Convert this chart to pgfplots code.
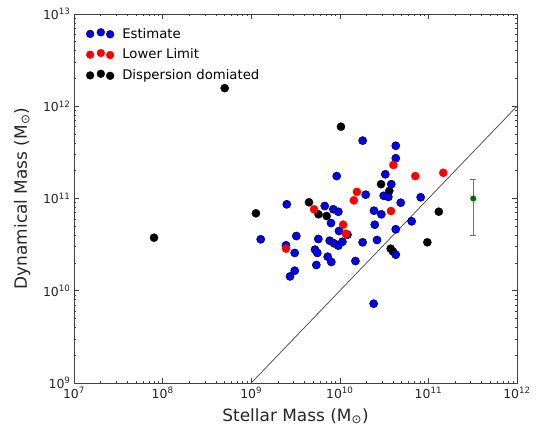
\documentclass[border=0pt]{standalone}
\usepackage{pgfplots}
\pgfplotsset{compat=1.18}
\usepackage{pgfplotstable}
\usepackage{fontspec}
\setmainfont{DejaVu Sans}

\pgfplotstableread{
x y
1.81e10 4.24e11
4.28e10 3.73e11
4.28e10 2.73e11
9.23e9 1.75e11
3.26e10 1.83e11
3.81e10 1.43e11
1.96e10 1.10e11
3.13e10 1.07e11
3.53e10 1.04e11
4.87e10 9.0e10
8.18e10 1.03e11
2.52e9 8.65e10
6.76e9 8.29e10
8.45e9 7.64e10
9.62e9 7.19e10
2.43e10 7.38e10
2.94e10 6.74e10
7.96e9 5.42e10
2.48e10 5.20e10
6.47e10 5.66e10
4.28e10 4.64e10
9.79e9 4.44e10
1.22e10 4.05e10
1.28e9 3.61e10
3.23e9 3.92e10
5.72e9 3.64e10
2.47e9 3.11e10
7.69e9 3.49e10
8.60e9 3.27e10
9.62e9 3.08e10
1.07e10 3.40e10
1.81e10 3.35e10
2.63e10 3.55e10
3.10e9 2.57e10
5.25e9 2.79e10
5.57e9 2.57e10
7.30e9 2.34e10
8.02e9 2.05e10
5.43e9 1.90e10
1.50e10 2.10e10
3.10e9 1.65e10
2.74e9 1.43e10
4.28e10 2.46e10
2.41e10 7.24e9
}\estimate

\pgfplotstableread{
x y
5.02e8 1.57e12
8.0e7 3.76e10
1.13e9 6.91e10
1.03e10 6.0e11
4.49e9 9.1e10
5.75e9 6.74e10
7.11e9 6.46e10
2.92e10 1.43e11
3.62e10 1.21e11
3.75e10 2.86e10
3.98e10 2.66e10
1.31e11 7.19e10
9.72e10 3.35e10
}\dispersion

\pgfplotstableread{
x y
4.02e10 2.31e11
7.11e10 1.75e11
1.47e11 1.90e11
1.56e10 1.18e11
1.44e10 9.55e10
3.78e10 7.32e10
5.12e9 7.64e10
1.09e10 5.20e10
1.17e10 4.15e10
2.47e9 2.86e10
}\lowerlimit

\definecolor{bargreen}{rgb}{0.22,0.6,0.22}
\definecolor{dotgreen}{rgb}{0,0.42,0}

\begin{document}
\begin{tikzpicture}
\begin{axis}[
  name=ax,
  scale only axis,
  width=443bp, height=369bp,
  xmode=log, ymode=log,
  xmin=1e7, xmax=1e12, ymin=1e9, ymax=1e13,
  axis line style={black!75, line width=0.8bp},
  tick style={black!75, line width=0.6bp},
  major tick length=5bp, minor tick length=2.5bp,
  tick align=inside,
  xtick={1e7,1e8,1e9,1e10,1e11,1e12},
  xticklabels={10\textsuperscript{7},10\textsuperscript{8},10\textsuperscript{9},10\textsuperscript{10},10\textsuperscript{11},10\textsuperscript{12}},
  ytick={1e9,1e10,1e11,1e12,1e13},
  yticklabels={10\textsuperscript{9},10\textsuperscript{10},10\textsuperscript{11},10\textsuperscript{12},10\textsuperscript{13}},
  minor xtick={2e7,3e7,4e7,5e7,6e7,7e7,8e7,9e7,2e8,3e8,4e8,5e8,6e8,7e8,8e8,9e8,2e9,3e9,4e9,5e9,6e9,7e9,8e9,9e9,2e10,3e10,4e10,5e10,6e10,7e10,8e10,9e10,2e11,3e11,4e11,5e11,6e11,7e11,8e11,9e11},
  minor ytick={2e9,3e9,4e9,5e9,6e9,7e9,8e9,9e9,2e10,3e10,4e10,5e10,6e10,7e10,8e10,9e10,2e11,3e11,4e11,5e11,6e11,7e11,8e11,9e11,2e12,3e12,4e12,5e12,6e12,7e12,8e12,9e12},
  ticklabel style={font=\fontsize{12.5}{14}\selectfont, text=black!85},
  xticklabel style={yshift=-1bp},
  xlabel={Stellar Mass (M\textsubscript{⊙})},
  ylabel={Dynamical Mass (M\textsubscript{⊙})},
  label style={font=\fontsize{17}{20}\selectfont, text=black!85},
  xlabel style={at={(axis description cs:0.5,-0.103)}, anchor=base},
  ylabel style={at={(axis description cs:-0.117,0.5)}, anchor=center},
  legend style={draw=none, fill=none, at={(0.02,0.973)}, anchor=north west,
    font=\fontsize{13.3}{15}\selectfont, row sep=5.2bp, column sep=6bp},
  legend cell align=left,
  clip=false,
]
\addlegendimage{legend image code/.code={
  \draw[fill=blue, draw=black, line width=0.4bp] (0bp,0bp) circle (3.9bp);
  \draw[fill=blue, draw=black, line width=0.4bp] (10.7bp,1.6bp) circle (3.9bp);
  \draw[fill=blue, draw=black, line width=0.4bp] (20bp,-0.4bp) circle (3.9bp);
}}
\addlegendentry{Estimate}
\addlegendimage{legend image code/.code={
  \fill[red] (0bp,0bp) circle (3.9bp);
  \fill[red] (10.7bp,1.6bp) circle (3.9bp);
  \fill[red] (20bp,-0.4bp) circle (3.9bp);
}}
\addlegendentry{Lower Limit}
\addlegendimage{legend image code/.code={
  \fill[black] (0bp,0bp) circle (3.9bp);
  \fill[black] (10.7bp,1.6bp) circle (3.9bp);
  \fill[black] (20bp,-0.4bp) circle (3.9bp);
}}
\addlegendentry{Dispersion domiated}

\addplot[forget plot, black!75, line width=0.7bp] coordinates {(1e9,1e9) (1e12,1e12)};

\addplot[forget plot, only marks, mark=*, mark size=4.1bp, mark options={fill=black, draw=black, line width=0.3bp}] table {\dispersion};
\addplot[forget plot, only marks, mark=*, mark size=4.1bp, mark options={fill=blue, draw=black, line width=0.45bp}] table {\estimate};
\addplot[forget plot, only marks, mark=*, mark size=4.1bp, mark options={fill=red, draw=red, line width=0.3bp}] table {\lowerlimit};

\addplot[forget plot, only marks, mark=*, mark size=2.8bp, draw=bargreen,
  mark options={fill=dotgreen, draw=dotgreen},
  error bars/.cd, y dir=both, y explicit,
  error bar style={line width=1.4bp, draw=bargreen, color=bargreen},
  error mark options={rotate=90, mark size=3bp, line width=1bp, draw=bargreen, color=bargreen}]
  coordinates {(3.21e11,1.0e11) +- (0,6e10)};
\end{axis}
\pgfresetboundingbox
\useasboundingbox ([xshift=-74bp,yshift=-45bp]ax.south west) rectangle ([xshift=26bp,yshift=14bp]ax.north east);
\end{tikzpicture}
\end{document}
